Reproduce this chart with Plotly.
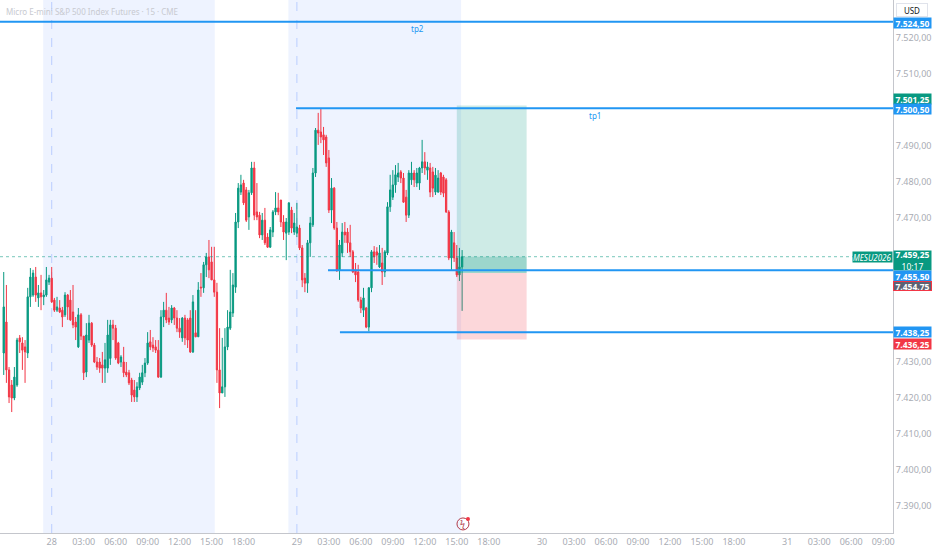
import plotly.graph_objects as go

# 15 min bars, MES, 27 evening -> 29 15:30
opens = [7432.5, 7441.1, 7427.8, 7423.6, 7420.0, 7423.6, 7436.7, 7435.3, 7434.2, 7432.5,
         7448.1, 7448.6, 7453.6, 7447.8, 7449.2, 7448.1, 7448.6, 7452.2, 7453.3, 7447.2,
         7444.4, 7445.0, 7444.4, 7443.1, 7448.6, 7447.2, 7443.9, 7441.1, 7434.2, 7443.1,
         7437.2, 7427.2, 7436.1, 7440.8, 7434.7, 7430.0, 7430.0, 7429.2, 7428.3, 7428.3,
         7431.0, 7440.3, 7439.4, 7435.3, 7430.0, 7430.0, 7427.2, 7427.0, 7425.0, 7422.2,
         7420.3, 7422.8, 7424.4, 7427.0, 7429.7, 7435.6, 7434.7, 7434.2, 7433.3, 7425.8,
         7442.5, 7444.4, 7442.2, 7441.7, 7445.0, 7442.2, 7439.4, 7436.7, 7442.2, 7441.7,
         7442.2, 7432.8, 7438.1, 7437.0, 7450.8, 7450.6, 7457.0, 7459.2, 7457.8, 7452.8,
         7449.4, 7427.8, 7421.4, 7423.1, 7434.2, 7439.4, 7443.6, 7450.8, 7468.9, 7477.2,
         7479.7, 7477.8, 7470.3, 7477.0, 7483.9, 7471.7, 7470.8, 7465.3, 7469.4, 7464.7,
         7461.9, 7466.1, 7471.7, 7472.8, 7475.0, 7468.9, 7465.8, 7466.1, 7472.2, 7466.1,
         7465.8, 7467.2, 7461.7, 7453.3, 7451.9, 7463.1, 7468.1, 7482.5, 7494.4, 7493.9,
         7493.1, 7492.5, 7486.7, 7472.2, 7478.3, 7467.2, 7455.6, 7460.3, 7466.1, 7466.1,
         7463.1, 7460.6, 7455.6, 7455.0, 7447.2, 7444.4, 7445.0, 7439.7, 7450.6, 7460.6,
         7460.6, 7456.4, 7457.5, 7455.0, 7460.3, 7473.1, 7475.8, 7479.2, 7481.4, 7482.8,
         7481.1, 7475.8, 7470.8, 7480.6, 7482.5, 7479.7, 7479.7, 7483.9, 7485.6, 7483.3,
         7483.9, 7482.8, 7477.2, 7477.2, 7482.5, 7481.4, 7480.6, 7471.7, 7458.9, 7463.1,
         7458.9, 7454.2, 7456.4]
highs = [7455.0, 7451.4, 7428.6, 7425.0, 7428.6, 7436.7, 7437.5, 7436.9, 7436.1, 7450.6,
         7456.1, 7455.6, 7456.4, 7451.4, 7454.2, 7450.0, 7456.4, 7454.2, 7456.4, 7447.8,
         7448.1, 7447.2, 7445.3, 7449.4, 7448.9, 7450.0, 7451.4, 7442.5, 7445.0, 7443.6,
         7437.2, 7440.8, 7443.1, 7441.1, 7435.3, 7431.4, 7431.1, 7432.8, 7435.3, 7441.7,
         7441.7, 7441.7, 7440.3, 7435.6, 7431.9, 7434.2, 7430.0, 7427.8, 7425.6, 7425.0,
         7424.4, 7427.0, 7429.2, 7431.1, 7438.3, 7438.9, 7436.9, 7436.1, 7436.1, 7444.4,
         7446.7, 7449.2, 7445.3, 7445.8, 7445.3, 7444.4, 7442.2, 7442.5, 7443.1, 7442.2,
         7444.4, 7448.6, 7444.4, 7452.2, 7454.7, 7457.8, 7460.3, 7463.9, 7462.0, 7462.0,
         7452.0, 7439.4, 7436.7, 7439.4, 7444.4, 7455.6, 7454.7, 7471.4, 7479.7, 7482.0,
         7480.6, 7478.6, 7477.8, 7485.6, 7485.6, 7479.7, 7471.7, 7471.4, 7472.8, 7465.8,
         7467.5, 7472.2, 7477.2, 7477.0, 7475.0, 7470.8, 7470.0, 7474.4, 7473.1, 7471.4,
         7474.2, 7468.1, 7462.5, 7454.7, 7463.9, 7470.3, 7483.9, 7495.0, 7499.2, 7500.5,
         7495.3, 7493.1, 7488.9, 7481.1, 7478.6, 7468.9, 7463.9, 7468.6, 7468.9, 7467.2,
         7468.1, 7461.1, 7457.5, 7457.0, 7448.1, 7450.6, 7445.3, 7450.8, 7461.1, 7462.2,
         7461.9, 7462.5, 7461.7, 7461.1, 7474.4, 7482.0, 7483.3, 7484.7, 7485.3, 7483.3,
         7482.5, 7477.8, 7483.3, 7485.6, 7483.3, 7483.9, 7484.2, 7491.7, 7488.3, 7485.6,
         7485.3, 7484.2, 7483.9, 7483.3, 7482.8, 7482.0, 7481.1, 7472.2, 7466.7, 7466.1,
         7462.5, 7461.7, 7461.1]
lows = [7426.4, 7424.2, 7418.6, 7416.1, 7419.4, 7423.1, 7432.5, 7427.8, 7424.2, 7431.1,
        7445.3, 7448.1, 7446.7, 7445.3, 7444.4, 7445.8, 7448.1, 7451.4, 7446.4, 7443.9,
        7443.9, 7443.6, 7439.7, 7442.5, 7441.7, 7441.4, 7439.4, 7436.1, 7433.9, 7436.1,
        7425.0, 7425.8, 7435.3, 7434.2, 7429.7, 7427.8, 7427.0, 7424.2, 7424.2, 7427.0,
        7429.2, 7436.1, 7430.6, 7429.4, 7428.6, 7425.8, 7425.8, 7423.6, 7418.9, 7418.9,
        7418.9, 7422.2, 7423.6, 7425.8, 7429.2, 7433.3, 7432.8, 7432.5, 7425.6, 7425.6,
        7439.7, 7440.8, 7440.3, 7440.8, 7440.3, 7438.3, 7436.7, 7435.6, 7434.7, 7433.9,
        7432.5, 7432.5, 7436.9, 7437.0, 7448.1, 7449.2, 7453.6, 7453.3, 7452.8, 7448.1,
        7424.2, 7417.2, 7421.4, 7420.3, 7433.3, 7438.9, 7442.5, 7449.2, 7467.2, 7476.4,
        7473.6, 7468.9, 7466.7, 7476.4, 7469.4, 7469.4, 7464.4, 7463.9, 7462.5, 7461.7,
        7461.7, 7464.7, 7470.8, 7470.8, 7467.5, 7463.9, 7458.3, 7465.3, 7465.8, 7465.3,
        7464.7, 7461.1, 7450.8, 7449.4, 7449.2, 7459.2, 7467.5, 7481.4, 7490.3, 7490.8,
        7487.5, 7484.2, 7471.4, 7468.6, 7466.7, 7455.0, 7452.8, 7459.2, 7463.1, 7460.3,
        7459.2, 7454.7, 7452.2, 7446.7, 7443.6, 7442.5, 7439.4, 7438.5, 7449.4, 7457.5,
        7457.0, 7456.1, 7451.4, 7453.6, 7459.7, 7471.7, 7475.0, 7477.0, 7480.0, 7479.7,
        7474.2, 7468.9, 7470.0, 7479.2, 7478.6, 7478.6, 7477.8, 7482.5, 7482.0, 7480.6,
        7475.8, 7475.8, 7476.4, 7477.0, 7476.4, 7475.8, 7471.4, 7458.3, 7455.6, 7457.8,
        7453.6, 7452.5, 7444.2]
closes = [7445.3, 7427.8, 7420.3, 7420.0, 7425.8, 7436.1, 7435.6, 7433.3, 7432.8, 7448.1,
          7453.6, 7454.7, 7448.6, 7449.2, 7448.1, 7448.6, 7452.8, 7453.3, 7446.7, 7444.4,
          7445.3, 7443.9, 7442.5, 7448.6, 7445.3, 7441.7, 7440.3, 7439.7, 7443.1, 7437.2,
          7427.0, 7437.5, 7440.8, 7434.7, 7430.0, 7428.6, 7428.3, 7428.3, 7430.6, 7437.5,
          7440.3, 7439.4, 7431.1, 7429.7, 7431.4, 7427.0, 7426.4, 7424.2, 7420.8, 7420.3,
          7423.1, 7425.8, 7427.0, 7429.7, 7435.3, 7434.2, 7433.9, 7433.3, 7425.8, 7442.5,
          7444.4, 7441.7, 7441.1, 7445.0, 7442.2, 7439.4, 7438.3, 7442.2, 7436.7, 7436.1,
          7432.8, 7446.7, 7437.0, 7450.0, 7450.6, 7457.0, 7459.2, 7455.6, 7452.8, 7449.4,
          7427.8, 7421.4, 7423.1, 7434.2, 7439.7, 7443.9, 7451.4, 7468.9, 7478.3, 7479.2,
          7474.2, 7469.4, 7477.0, 7483.9, 7470.8, 7470.3, 7465.3, 7469.4, 7463.1, 7461.9,
          7466.7, 7471.7, 7472.8, 7471.7, 7468.9, 7466.1, 7468.9, 7474.2, 7467.2, 7468.6,
          7467.5, 7461.7, 7452.8, 7451.9, 7463.1, 7468.6, 7482.5, 7494.4, 7493.6, 7492.5,
          7491.7, 7485.3, 7472.2, 7478.3, 7467.2, 7455.6, 7462.5, 7466.1, 7465.3, 7463.1,
          7460.6, 7455.0, 7454.2, 7447.2, 7445.0, 7447.8, 7439.7, 7450.6, 7460.6, 7459.2,
          7459.7, 7460.3, 7455.0, 7460.6, 7473.1, 7477.8, 7479.2, 7482.0, 7482.5, 7481.1,
          7474.4, 7470.8, 7482.5, 7482.5, 7480.6, 7482.5, 7483.9, 7485.6, 7483.9, 7484.2,
          7477.2, 7478.3, 7481.9, 7481.1, 7477.2, 7476.9, 7471.7, 7458.9, 7466.1, 7458.9,
          7454.2, 7456.4, 7459.25]

# trading-hour clock: 0 = day "28" 00:00, 23 trading hours per session day
last_bar_hour = 38.5
bar_step = 0.25
days = ["28", "29", "30", "31"]
hour_marks = [3, 6, 9, 12, 15, 18]
hours_per_day = 23

# drawings
tp2 = 7524.50
tp1 = 7500.50
level_mid = 7455.50
level_low = 7438.25
tp1_start, mid_start, low_start = 22.92, 25.92, 27.04
target, entry, stop = 7501.25, 7454.75, 7436.25
pos_start, pos_end = 38.0, 44.55
last_price = 7459.25
countdown = "10:17"
sessions = [(-0.8, 15.3), (22.2, 38.4)]

x_range = [-4.85, 78.92]
y_range = [7382.5, 7530.56]
y_ticks = [7390, 7400, 7410, 7420, 7430, 7470, 7480, 7490, 7510, 7520]

BLUE = "#2196F3"
UP = "#089981"
DOWN = "#F23645"
GREY = "#a9acb4"


def fmt(v):
    s = f"{v:,.2f}"
    return s.replace(",", "#").replace(".", ",").replace("#", ".")


n = len(closes)
bar_x = [last_bar_hour - bar_step * (n - 1 - i) for i in range(n)]

tick_vals, tick_text = [], []
for d, lab in enumerate(days):
    tick_vals.append(d * hours_per_day)
    tick_text.append(lab)
    for h in hour_marks:
        if d == 3 and h > 9:
            continue
        tick_vals.append(d * hours_per_day + h)
        tick_text.append(f"{h:02d}:00")

fig = go.Figure(go.Candlestick(
    x=bar_x, open=opens, high=highs, low=lows, close=closes,
    increasing=dict(line=dict(color=UP, width=1), fillcolor=UP),
    decreasing=dict(line=dict(color=DOWN, width=1), fillcolor=DOWN),
    whiskerwidth=0, hoverinfo="skip", showlegend=False,
))

shapes = []
for a, b in sessions:
    shapes.append(dict(type="rect", xref="x", yref="paper", x0=a, x1=b, y0=0, y1=1,
                       fillcolor="rgba(41,98,255,0.08)", line_width=0, layer="below"))
for d in range(2):
    shapes.append(dict(type="line", xref="x", yref="paper", x0=d * hours_per_day,
                       x1=d * hours_per_day, y0=0, y1=1,
                       line=dict(color="rgba(41,98,255,0.25)", width=1, dash="dash"),
                       layer="below"))

# long position box
shapes += [
    dict(type="rect", x0=pos_start, x1=pos_end, y0=entry, y1=target,
         fillcolor="rgba(8,153,129,0.2)", line_width=0),
    dict(type="rect", x0=pos_start, x1=pos_end, y0=entry, y1=last_price,
         fillcolor="rgba(8,153,129,0.25)", line_width=0),
    dict(type="rect", x0=pos_start, x1=pos_end, y0=stop, y1=entry,
         fillcolor="rgba(242,54,69,0.2)", line_width=0),
]

# last price
shapes.append(dict(type="line", x0=x_range[0], x1=x_range[1], y0=last_price, y1=last_price,
                   line=dict(color="rgba(8,153,129,0.55)", width=1, dash="dot")))

# horizontal rays
for start, lvl in [(x_range[0] - 2, tp2), (tp1_start, tp1),
                   (mid_start, level_mid), (low_start, level_low)]:
    shapes.append(dict(type="line", x0=start, x1=x_range[1] + 2, y0=lvl, y1=lvl,
                       line=dict(color=BLUE, width=2)))

# little alert icon under the last bar
icon_x = 38.58
icon_y = 0.017
shapes.append(dict(type="circle", xref="x", yref="paper", xsizemode="pixel",
                   ysizemode="pixel", xanchor=icon_x, yanchor=icon_y,
                   x0=-6, x1=6, y0=-6, y1=6, line=dict(color="#b23a48", width=1)))
shapes.append(dict(type="circle", xref="x", yref="paper", xsizemode="pixel",
                   ysizemode="pixel", xanchor=icon_x, yanchor=icon_y,
                   x0=3, x1=7, y0=3, y1=7, fillcolor=DOWN, line_width=0))

ann = [
    dict(xref="paper", yref="paper", x=0, y=1, xanchor="left", yanchor="top",
         xshift=4, yshift=-4, showarrow=False,
         text="Micro E-mini S&P 500 Index Futures · 15 · CME",
         font=dict(size=8, color="#c8cad0")),
    dict(xref="x", yref="y", x=34.36, y=tp2, yshift=-7, showarrow=False, text="tp2",
         font=dict(size=8, color=BLUE)),
    dict(xref="x", yref="y", x=50.97, y=tp1, yshift=-7, showarrow=False, text="tp1",
         font=dict(size=8, color=BLUE)),
    dict(xref="x", yref="paper", x=icon_x, y=icon_y, xanchor="center", yanchor="middle",
         showarrow=False, text="ϟ", font=dict(size=9, color="#b23a48")),
    dict(xref="paper", yref="paper", x=1, y=1, xanchor="left", yanchor="top",
         xshift=3, yshift=-3, showarrow=False, text="USD", width=30, height=12,
         font=dict(size=8, color="#131722"), bgcolor="white",
         bordercolor="#e0e3eb", borderwidth=1, borderpad=0),
    dict(xref="paper", yref="y", x=1, y=last_price, xanchor="right", showarrow=False,
         text="<i>MESU2026</i>", height=10, font=dict(size=8, color="white"),
         bgcolor=UP, borderpad=0),
    dict(xref="paper", yref="y", x=1, y=last_price, xanchor="left", yanchor="middle",
         yshift=-4, showarrow=False, align="center", width=37, height=19,
         text=f"<b>{fmt(last_price)}</b><br>{countdown}",
         font=dict(size=8.5, color="white"), bgcolor=UP, borderpad=0),
]
for price, color, shift in [(tp2, BLUE, -1), (target, UP, 7), (tp1, BLUE, -1),
                            (level_mid, BLUE, -6), (entry, "#5d6273", -13),
                            (level_low, BLUE, 0), (stop, DOWN, -4)]:
    a = dict(xref="paper", yref="y", x=1, y=price, xanchor="left", yanchor="middle",
             yshift=shift, showarrow=False, text=f"<b>{fmt(price)}</b>", width=37,
             height=10, align="center", font=dict(size=8.5, color="white"),
             bgcolor=color, borderpad=0)
    if price == entry:
        a.update(bordercolor=DOWN, borderwidth=1, height=8)
    ann.append(a)

fig.update_layout(
    width=932, height=550,
    margin=dict(l=0, r=39, t=0, b=17),
    paper_bgcolor="white", plot_bgcolor="white",
    separators=",.",
    font=dict(family="Noto Sans", size=9, color=GREY),
    shapes=shapes, annotations=ann,
    xaxis=dict(range=x_range, tickvals=tick_vals, ticktext=tick_text,
               rangeslider=dict(visible=False), showgrid=False, zeroline=False,
               showline=True, linecolor="#c4c6cc", linewidth=1,
               tickfont=dict(size=9, color=GREY)),
    yaxis=dict(range=y_range, side="right", tickvals=y_ticks, tickformat=",.2f",
               showgrid=False, zeroline=False, showline=True, linecolor="#c4c6cc",
               linewidth=1, tickfont=dict(size=9, color=GREY)),
)

fig.write_html("out.html", config={"displayModeBar": False},
               post_script="document.body.style.margin='0';")
